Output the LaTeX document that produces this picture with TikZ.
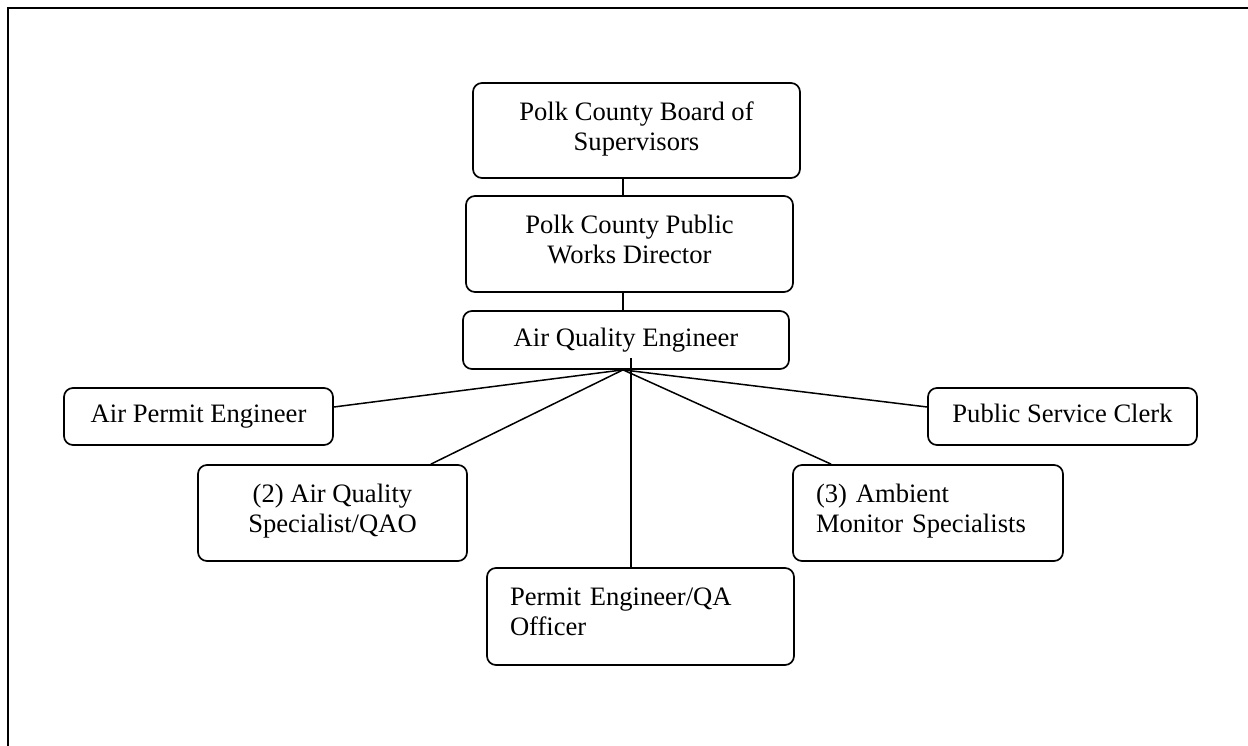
\documentclass[tikz,border=0pt]{standalone}
\usepackage{fontspec}
\setmainfont{Liberation Serif}
\usepackage{tikz}
\usetikzlibrary{calc}
\newcommand{\chartfont}{\fontsize{26.6}{30}\selectfont}
\tikzset{
  frame/.style={draw=black, line width=2.6pt},
  post/.style={draw=black, line width=1.7pt, rounded corners=9pt, inner sep=0pt, font=\chartfont},
  postc/.style={post, align=center},
  postl/.style={post, align=left},
  link/.style={draw=black, line width=1.5pt},
}

\begin{document}
\begin{tikzpicture}[x=1pt,y=-1pt]
  \useasboundingbox (0,0) rectangle (1248,746);
  % open page frame
  \draw[frame] (1248,8) -- (8,8) -- (8,746);

  % top of the chain
  \node[postc,minimum width=327pt,minimum height=95pt] (board) at (636.5,130.5) {Polk County Board of\\Supervisors\strut};
  \node[postc,minimum width=327pt,minimum height=96pt] (pwd) at (629.5,244) {Polk County Public\\Works Director\strut};
  \node[postc,minimum width=326pt,minimum height=58pt] (aqe) at (626,340) {Air Quality Engineer\strut};

  % staff
  \node[postc,minimum width=269pt,minimum height=57pt] (ape) at (198.5,416.5) {Air Permit Engineer\strut};
  \node[postc,minimum width=269pt,minimum height=57pt] (psc) at (1062.5,416.5) {Public Service Clerk\strut};
  \node[postc,minimum width=269pt,minimum height=96pt] (aqs) at (332.5,513) {(2) Air Quality\\Specialist/QAO\strut};
  \node[postl,minimum width=270pt,minimum height=96pt,text width=224pt] (ams) at (928,513) {(3) Ambient\\Monitor Specialists\strut};
  \node[postl,minimum width=307pt,minimum height=97pt,text width=261pt] (peq) at (640.5,616.5) {Permit Engineer/QA\\Officer\strut};

  \coordinate (hub) at ([xshift=-3pt]aqe.south);
  \coordinate (drop) at (631,358);

  \draw[link] (board.south -| hub) -- (pwd.north -| hub);
  \draw[link] (pwd.south -| hub) -- (aqe.north -| hub);
  \draw[link] (hub) -- ([yshift=9.5pt]ape.east);
  \draw[link] (hub) -- ([yshift=9.5pt]psc.west);
  \draw[link] (hub) -- ([xshift=-37pt]aqs.north east);
  \draw[link] (hub) -- ([xshift=39pt]ams.north west);
  \draw[link] (drop) -- (drop |- peq.north);
\end{tikzpicture}
\end{document}
